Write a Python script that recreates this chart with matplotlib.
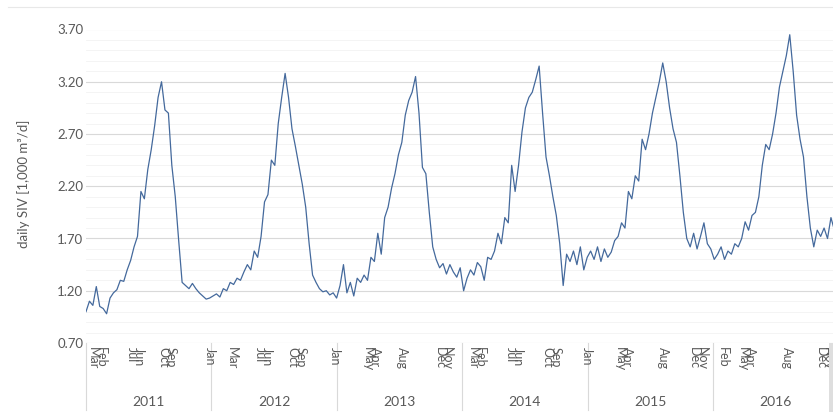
import matplotlib
matplotlib.use("Agg")
import matplotlib.pyplot as plt
import matplotlib.dates as mdates
import matplotlib.transforms as mtransforms
from matplotlib.patches import Rectangle
import numpy as np
import pandas as pd

plt.rcParams.update({"font.family": ["Lato", "DejaVu Sans"], "font.size": 9})

# daily SIV [1,000 m3/d], every 10 days from 2011-01-01
siv_2011 = [1.00, 1.10, 1.06, 1.24, 1.05, 1.03, 0.98, 1.13, 1.18, 1.21, 1.30, 1.29,
            1.40, 1.49, 1.62, 1.72, 2.15, 2.08, 2.36, 2.55, 2.78, 3.05, 3.20, 2.93,
            2.90, 2.40, 2.10, 1.68, 1.28, 1.25, 1.22, 1.27, 1.22, 1.18, 1.15, 1.12, 1.13]
siv_2012 = [1.15, 1.17, 1.14, 1.22, 1.20, 1.28, 1.26, 1.32, 1.30, 1.38, 1.45, 1.40,
            1.58, 1.52, 1.72, 2.05, 2.12, 2.45, 2.40, 2.80, 3.05, 3.28, 3.05, 2.75,
            2.58, 2.40, 2.22, 2.00, 1.65, 1.35, 1.28, 1.22, 1.19, 1.20, 1.16, 1.18, 1.13]
siv_2013 = [1.25, 1.45, 1.18, 1.28, 1.15, 1.32, 1.28, 1.35, 1.30, 1.52, 1.48, 1.75,
            1.55, 1.90, 2.00, 2.18, 2.32, 2.50, 2.62, 2.88, 3.02, 3.10, 3.25, 2.90,
            2.38, 2.32, 1.95, 1.62, 1.50, 1.42, 1.46, 1.36, 1.45, 1.38, 1.33, 1.42, 1.20]
siv_2014 = [1.32, 1.40, 1.35, 1.47, 1.43, 1.30, 1.52, 1.50, 1.58, 1.75, 1.65, 1.90,
            1.85, 2.40, 2.15, 2.40, 2.72, 2.95, 3.05, 3.10, 3.22, 3.35, 2.90, 2.48,
            2.30, 2.10, 1.92, 1.65, 1.25, 1.55, 1.48, 1.58, 1.45, 1.62, 1.40, 1.52]
siv_2015 = [1.58, 1.50, 1.62, 1.48, 1.60, 1.52, 1.57, 1.68, 1.72, 1.85, 1.80, 2.15,
            2.08, 2.30, 2.25, 2.65, 2.55, 2.70, 2.90, 3.05, 3.20, 3.38, 3.20, 2.95,
            2.75, 2.62, 2.30, 1.95, 1.70, 1.62, 1.75, 1.60, 1.72, 1.85, 1.65, 1.60, 1.50]
siv_2016 = [1.55, 1.62, 1.50, 1.58, 1.55, 1.65, 1.62, 1.70, 1.86, 1.78, 1.92, 1.95,
            2.10, 2.40, 2.60, 2.55, 2.70, 2.90, 3.15, 3.30, 3.45, 3.65, 3.30, 2.88,
            2.65, 2.48, 2.10, 1.80, 1.62, 1.78, 1.72, 1.80, 1.70, 1.90, 1.78, 1.75]

years = ["2011", "2012", "2013", "2014", "2015", "2016"]

# month labels of the category axis as they sit in the picture (pairs overlap there)
month_groups = [("Mar", "Feb"), ("Jul", "Jun"), ("Oct", "Sep"), ("Jan",),
                ("Mar",), ("Jul", "Jun"), ("Oct", "Sep"), ("Jan",),
                ("May", "Apr"), ("Aug",), ("Dec", "Nov"),
                ("Mar", "Feb"), ("Jul", "Jun"), ("Oct", "Sep"), ("Jan",),
                ("May", "Apr"), ("Aug",), ("Dec", "Nov"),
                ("Feb",), ("May", "Apr"), ("Aug",), ("Dec", "Nov")]
month_at = ["2011-02-02", "2011-05-25", "2011-08-26", "2011-12-28",
            "2012-02-29", "2012-05-31", "2012-09-05", "2012-12-26",
            "2013-04-12", "2013-07-09", "2013-11-07",
            "2014-02-11", "2014-06-02", "2014-09-18", "2014-12-29",
            "2015-04-15", "2015-08-09", "2015-11-19",
            "2016-01-30", "2016-04-08", "2016-08-03", "2016-11-21"]

siv = siv_2011 + siv_2012 + siv_2013 + siv_2014 + siv_2015 + siv_2016
dates = pd.date_range("2011-01-01", periods=len(siv), freq="10D")

W, H = 833, 420
fig = plt.figure(figsize=(W / 100, H / 100), dpi=100)
ax = fig.add_axes([86 / W, 1 - 343 / H, (838.5 - 86) / W, (343 - 29.5) / H])

ax.plot(dates, siv, color="#44699c", lw=0.9)

ax.set_ylim(0.70, 3.70)
ax.set_xlim(pd.Timestamp("2011-01-01"), pd.Timestamp("2017-01-01"))
ax.set_yticks(np.arange(0.70, 3.71, 0.5))
ax.set_yticks(np.arange(0.70, 3.71, 0.1), minor=True)
ax.yaxis.set_major_formatter(matplotlib.ticker.FormatStrFormatter("%.2f"))
ax.grid(axis="y", which="major", color="#d9d9d9", lw=0.8)
ax.grid(axis="y", which="minor", color="#f3f3f3", lw=0.6)
ax.set_axisbelow(True)
ax.tick_params(axis="y", which="both", length=0, pad=2, labelsize=9.5, labelcolor="#595959")
ax.set_xticks([])
for s in ax.spines.values():
    s.set_visible(False)

# month labels, rotated like the Excel axis; a pair is drawn as one squeezed text
trans = mtransforms.blended_transform_factory(ax.transData, ax.transAxes)
for grp, d in zip(month_groups, month_at):
    ax.annotate("\n".join(reversed(grp)), xy=(mdates.date2num(pd.Timestamp(d)), 0),
                xycoords=trans, xytext=(0, -3), textcoords="offset points",
                rotation=-90, ha="center", va="top", multialignment="left",
                fontsize=9, color="#595959", linespacing=0.55)

# year groups with separators
bounds = pd.date_range("2011-01-01", periods=len(years) + 1, freq="YS")
for b in bounds[:-1]:
    ax.plot([b, b], [0, -0.214], transform=trans, color="#d9d9d9", lw=0.8, clip_on=False)
for y, b0, b1 in zip(years, bounds[:-1], bounds[1:]):
    ax.text(b0 + (b1 - b0) / 2, -0.188, y, transform=trans, ha="center", va="center",
            fontsize=10, color="#595959")

fig.text(24 / W, 1 - 184 / H, "daily SIV [1,000 m³/d]", rotation=90, ha="center",
         va="center", fontsize=9.5, color="#595959")

# chart frame remnants
fig.add_artist(plt.Line2D([8 / W, 1], [1 - 7 / H, 1 - 7 / H], color="#e8e8e8", lw=0.8))
fig.add_artist(Rectangle((829 / W, 1 - 412 / H), 4 / W, 69 / H, color="#dedede", lw=0))

fig.savefig("out.png", dpi=100)
